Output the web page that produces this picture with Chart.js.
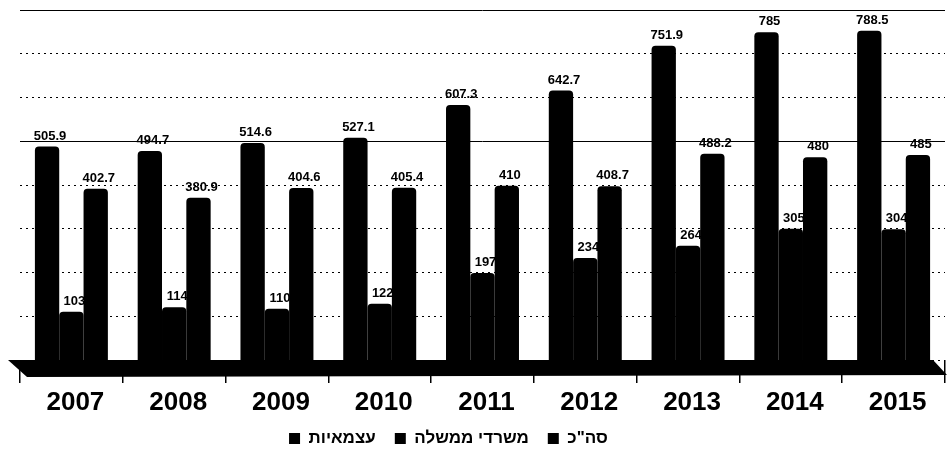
<!DOCTYPE html>
<html>
<head>
<meta charset="utf-8">
<script src="https://cdn.jsdelivr.net/npm/chart.js@4.4.1/dist/chart.umd.min.js"></script>
<style>
html,body{margin:0;padding:0;background:#fff;}
#wrap{width:947px;height:457px;position:relative;}
</style>
</head>
<body>
<div id="wrap"><canvas id="c"></canvas></div>
<script>
const years = ['2007', '2008', '2009', '2010', '2011', '2012', '2013', '2014', '2015'];
const totalValues = [505.9, 494.7, 514.6, 527.1, 607.3, 642.7, 751.9, 785, 788.5];
const govValues = [103, 114, 110, 122, 197, 234, 264, 305, 304];
const indepValues = [402.7, 380.9, 404.6, 405.4, 410, 408.7, 488.2, 480, 485];
const seriesNames = ['סה"כ', 'משרדי ממשלה', 'עצמאיות'];
const gridTicks = [0, 100, 200, 300, 400, 500, 600, 700, 800];

const FONT = '"Liberation Sans", Arial, sans-serif';
const Y_MIN = -15, Y_MAX = 839;

const floorPlugin = {
  id: 'floor',
  afterDatasetsDraw(chart) {
    const {ctx, chartArea: a} = chart;
    ctx.save();
    ctx.fillStyle = '#000';
    ctx.beginPath();
    ctx.moveTo(a.left - 12, a.bottom);
    ctx.lineTo(a.right - 12, a.bottom);
    ctx.lineTo(a.right + 2, a.bottom + 15);
    ctx.lineTo(a.left + 7, a.bottom + 17);
    ctx.closePath();
    ctx.fill();
    ctx.restore();
  }
};

const valuePlugin = {
  id: 'barValues',
  afterDatasetsDraw(chart) {
    const ctx = chart.ctx;
    ctx.save();
    ctx.font = 'bold 13px ' + FONT;
    ctx.fillStyle = '#000';
    ctx.textAlign = 'center';
    ctx.textBaseline = 'bottom';
    chart.data.datasets.forEach((ds, di) => {
      chart.getDatasetMeta(di).data.forEach((bar, i) => {
        ctx.fillText(String(ds.data[i]), bar.x + 3, bar.y - 4);
      });
    });
    ctx.restore();
  }
};

const legendShift = {
  id: 'legendShift',
  afterLayout(chart) {
    if (chart.legend) {
      chart.legend.left -= 34;
      chart.legend.right -= 34;
    }
  }
};

new Chart(document.getElementById('c'), {
  type: 'bar',
  data: {
    labels: years,
    datasets: [
      {label: seriesNames[0], data: totalValues, backgroundColor: '#000', base: Y_MIN},
      {label: seriesNames[1], data: govValues, backgroundColor: '#000', base: Y_MIN},
      {label: seriesNames[2], data: indepValues, backgroundColor: '#000', base: Y_MIN}
    ]
  },
  options: {
    responsive: true,
    maintainAspectRatio: false,
    animation: false,
    layout: {padding: {top: 10, left: 20, right: 2, bottom: 0}},
    datasets: {
      bar: {
        categoryPercentage: 0.71,
        barPercentage: 1,
        borderRadius: {topLeft: 4, topRight: 4, bottomLeft: 0, bottomRight: 0},
        borderSkipped: false
      }
    },
    scales: {
      x: {
        offset: true,
        afterFit: scale => { scale.height = 51; },
        grid: {display: true, drawOnChartArea: false, drawTicks: true, tickLength: 23, color: '#000', lineWidth: 1.5},
        border: {display: false},
        ticks: {color: '#000', font: {family: FONT, size: 26, weight: 'bold', lineHeight: 1}, padding: 7, labelOffset: 4, maxRotation: 0, autoSkip: false}
      },
      y: {display: false, min: Y_MIN, max: Y_MAX},
      g: {
        type: 'linear',
        position: 'left',
        min: 0,
        max: 800,
        afterBuildTicks: axis => { axis.ticks = gridTicks.map(v => ({value: v})); },
        ticks: {display: false},
        grid: {color: '#000', lineWidth: 1, drawTicks: false},
        border: {display: false, dash: ctx => (ctx.tick && (ctx.tick.value === 500 || ctx.tick.value === 800)) ? [] : [2, 4]}
      }
    },
    plugins: {
      legend: {
        position: 'bottom',
        reverse: true,
        labels: {
          color: '#000',
          boxWidth: 11,
          boxHeight: 11,
          padding: 19,
          font: {family: FONT, size: 17, weight: 'bold'}
        }
      },
      tooltip: {enabled: false}
    }
  },
  plugins: [floorPlugin, valuePlugin, legendShift]
});
</script>
</body>
</html>
